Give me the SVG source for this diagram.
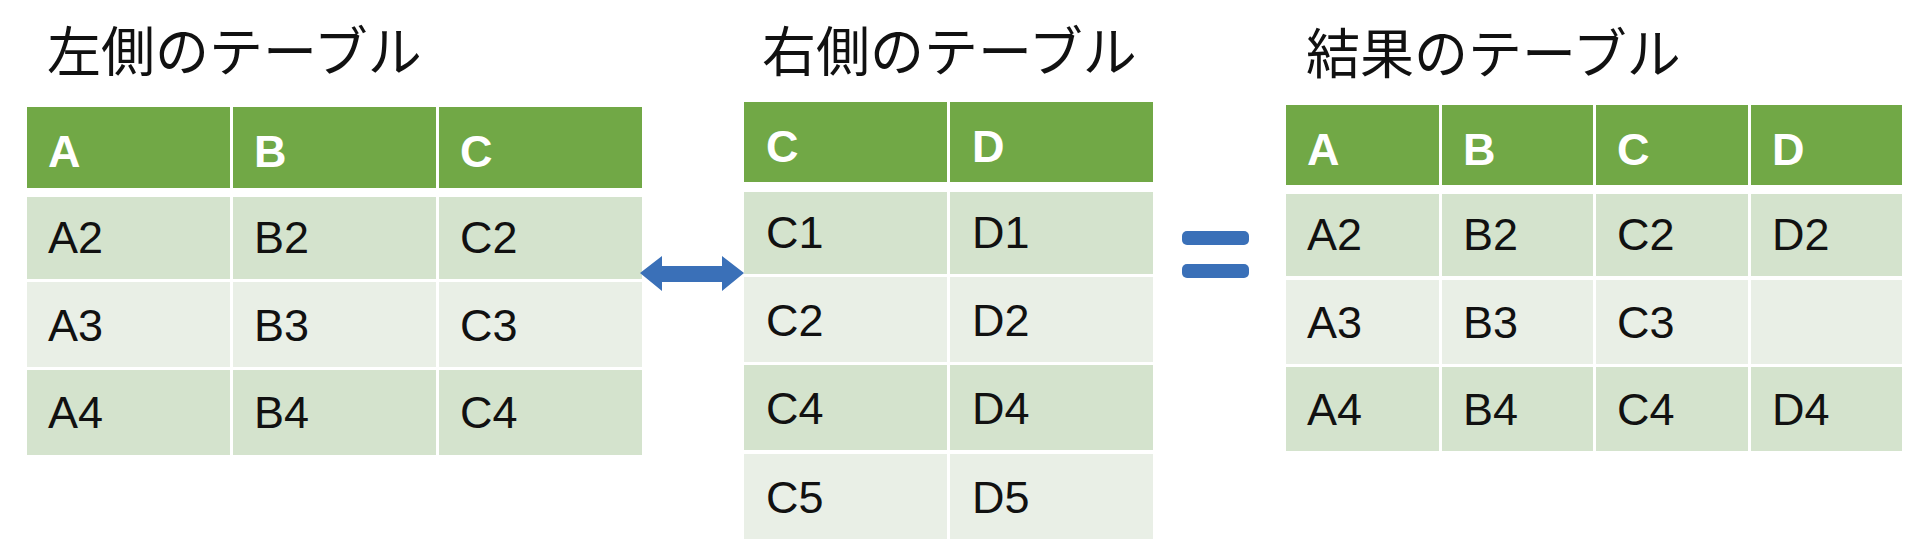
<svg xmlns="http://www.w3.org/2000/svg" width="1920" height="557" viewBox="0 0 1920 557">
<style>
.t{font-family:"Noto Sans CJK JP",sans-serif;font-size:54px;fill:#111}
.h{fill:#71a846}.d{fill:#d4e3cd}.l{fill:#e9efe6}
.ht{font-family:"Liberation Sans",sans-serif;font-weight:bold;font-size:45px;fill:#fff}
.c{font-family:"Liberation Sans",sans-serif;font-size:45px;fill:#111}
</style>
<rect width="1920" height="557" fill="#fff"/>
<g id="left-table">
<text class="t" x="47" y="72">左側のテーブル</text>
<rect class="h" x="27" y="107" width="203" height="81"/><rect class="h" x="233" y="107" width="203" height="81"/><rect class="h" x="439" y="107" width="203" height="81"/>
<rect class="d" x="27" y="197" width="203" height="82"/><rect class="d" x="233" y="197" width="203" height="82"/><rect class="d" x="439" y="197" width="203" height="82"/>
<rect class="l" x="27" y="282" width="203" height="85"/><rect class="l" x="233" y="282" width="203" height="85"/><rect class="l" x="439" y="282" width="203" height="85"/>
<rect class="d" x="27" y="370" width="203" height="85"/><rect class="d" x="233" y="370" width="203" height="85"/><rect class="d" x="439" y="370" width="203" height="85"/>
<text class="ht" x="48" y="167">A</text><text class="ht" x="254" y="167">B</text><text class="ht" x="460" y="167">C</text>
<text class="c" x="48" y="253">A2</text><text class="c" x="254" y="253">B2</text><text class="c" x="460" y="253">C2</text>
<text class="c" x="48" y="341">A3</text><text class="c" x="254" y="341">B3</text><text class="c" x="460" y="341">C3</text>
<text class="c" x="48" y="428">A4</text><text class="c" x="254" y="428">B4</text><text class="c" x="460" y="428">C4</text>
</g>
<g id="right-table">
<text class="t" x="762" y="72">右側のテーブル</text>
<rect class="h" x="744" y="102" width="203" height="80"/><rect class="h" x="950" y="102" width="203" height="80"/>
<rect class="d" x="744" y="192" width="203" height="82"/><rect class="d" x="950" y="192" width="203" height="82"/>
<rect class="l" x="744" y="277" width="203" height="85"/><rect class="l" x="950" y="277" width="203" height="85"/>
<rect class="d" x="744" y="365" width="203" height="85"/><rect class="d" x="950" y="365" width="203" height="85"/>
<rect class="l" x="744" y="454" width="203" height="85"/><rect class="l" x="950" y="454" width="203" height="85"/>
<text class="ht" x="766" y="162">C</text><text class="ht" x="972" y="162">D</text>
<text class="c" x="766" y="248">C1</text><text class="c" x="972" y="248">D1</text>
<text class="c" x="766" y="336">C2</text><text class="c" x="972" y="336">D2</text>
<text class="c" x="766" y="424">C4</text><text class="c" x="972" y="424">D4</text>
<text class="c" x="766" y="513">C5</text><text class="c" x="972" y="513">D5</text>
</g>
<g id="result-table">
<text class="t" x="1306" y="74">結果のテーブル</text>
<rect class="h" x="1286" y="105" width="153" height="80"/><rect class="h" x="1442" y="105" width="151" height="80"/><rect class="h" x="1596" y="105" width="152" height="80"/><rect class="h" x="1751" y="105" width="151" height="80"/>
<rect class="d" x="1286" y="194" width="153" height="82"/><rect class="d" x="1442" y="194" width="151" height="82"/><rect class="d" x="1596" y="194" width="152" height="82"/><rect class="d" x="1751" y="194" width="151" height="82"/>
<rect class="l" x="1286" y="280" width="153" height="84"/><rect class="l" x="1442" y="280" width="151" height="84"/><rect class="l" x="1596" y="280" width="152" height="84"/><rect class="l" x="1751" y="280" width="151" height="84"/>
<rect class="d" x="1286" y="367" width="153" height="84"/><rect class="d" x="1442" y="367" width="151" height="84"/><rect class="d" x="1596" y="367" width="152" height="84"/><rect class="d" x="1751" y="367" width="151" height="84"/>
<text class="ht" x="1307" y="165">A</text><text class="ht" x="1463" y="165">B</text><text class="ht" x="1617" y="165">C</text><text class="ht" x="1772" y="165">D</text>
<text class="c" x="1307" y="250">A2</text><text class="c" x="1463" y="250">B2</text><text class="c" x="1617" y="250">C2</text><text class="c" x="1772" y="250">D2</text>
<text class="c" x="1307" y="338">A3</text><text class="c" x="1463" y="338">B3</text><text class="c" x="1617" y="338">C3</text>
<text class="c" x="1307" y="425">A4</text><text class="c" x="1463" y="425">B4</text><text class="c" x="1617" y="425">C4</text><text class="c" x="1772" y="425">D4</text>
</g>
<g id="connectors" fill="#3a70b8">
<path d="M640,273 L662,256 L662,266 L722,266 L722,256 L744,273 L722,291 L722,282 L662,282 L662,291 Z"/>
<rect x="1182" y="231" width="67" height="14" rx="5"/>
<rect x="1182" y="264" width="67" height="14" rx="5"/>
</g>
</svg>
